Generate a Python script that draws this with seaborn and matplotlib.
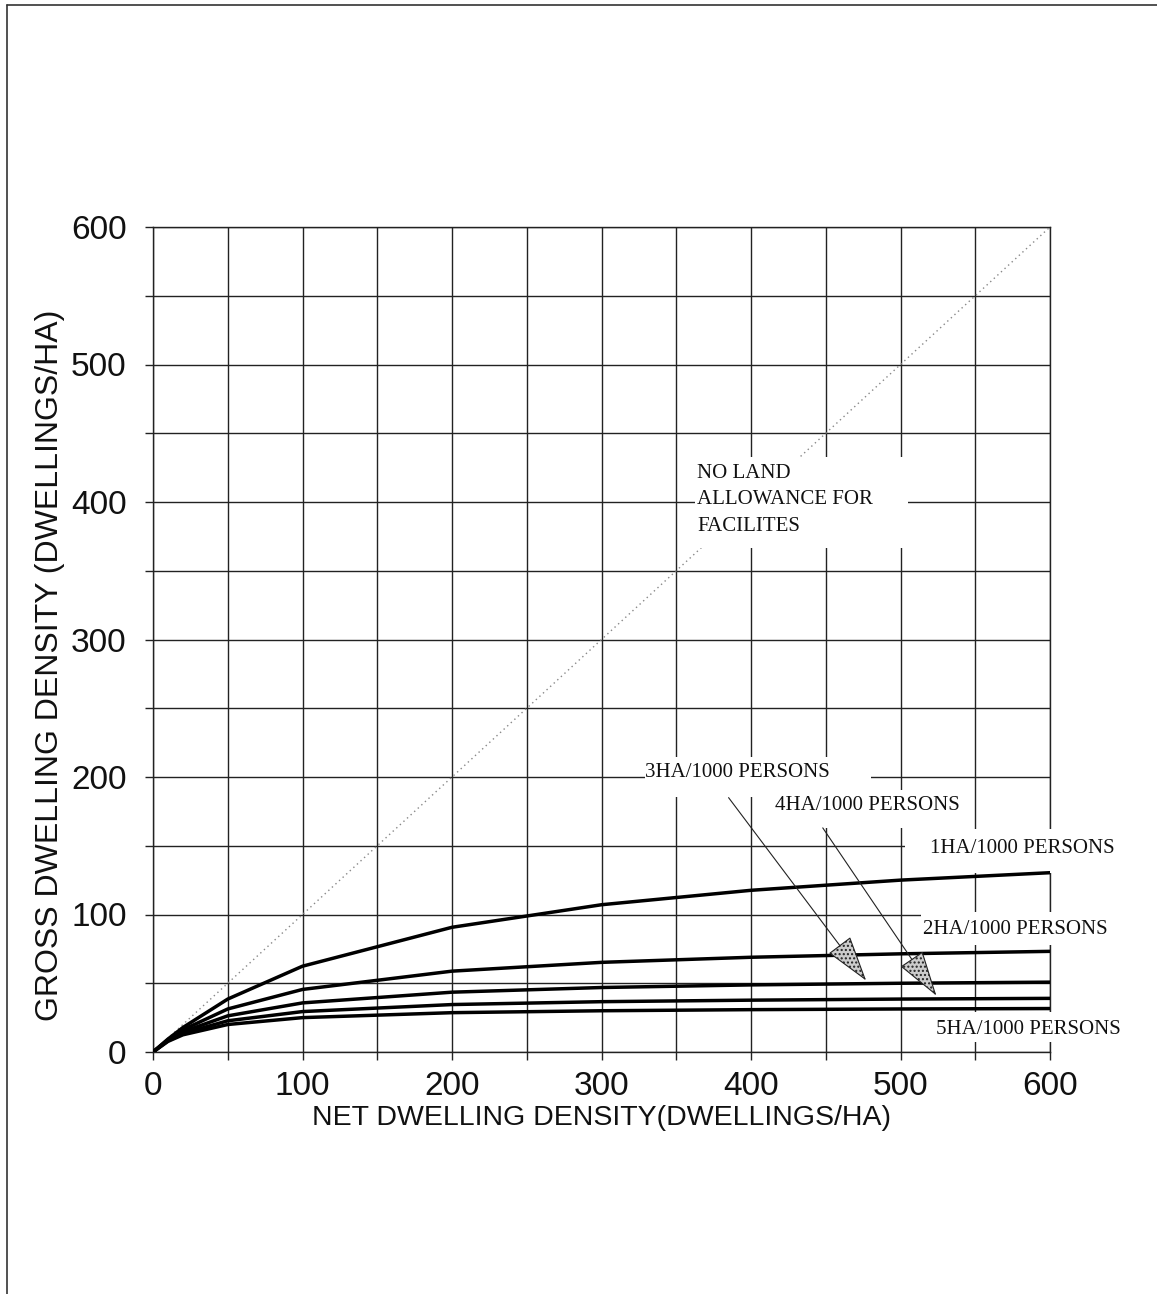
import numpy as np
import pandas as pd
import matplotlib
matplotlib.use("Agg")
import matplotlib.pyplot as plt
import seaborn as sns
from matplotlib.lines import Line2D
from matplotlib.patches import Rectangle

# ---- data ----
net_density = [0, 10, 20, 50, 100, 200, 300, 400, 500, 600]
ha1 = [0, 9.4, 17.8, 38.5, 62.4, 90.7, 107.1, 117.6, 125.0, 130.4]
ha2 = [0, 8.9, 16.1, 31.3, 45.5, 58.8, 65.2, 68.9, 71.4, 73.2]
ha3 = [0, 8.5, 14.7, 26.3, 35.7, 43.5, 46.9, 48.8, 50.0, 50.8]
ha4 = [0, 8.1, 13.5, 22.7, 29.4, 34.5, 36.6, 37.7, 38.5, 39.0]
ha5 = [0, 7.7, 12.5, 20.0, 25.0, 28.6, 30.0, 30.8, 31.3, 31.6]
diag_x = [0, 600]
diag_y = [0, 600]
series_names = ["1HA/1000 PERSONS", "2HA/1000 PERSONS", "3HA/1000 PERSONS",
                "4HA/1000 PERSONS", "5HA/1000 PERSONS"]
x_ticks = [0, 100, 200, 300, 400, 500, 600]
y_ticks = [0, 100, 200, 300, 400, 500, 600]

rows = []
for name, vals in zip(series_names, [ha1, ha2, ha3, ha4, ha5]):
    for x, y in zip(net_density, vals):
        rows.append({"net": x, "gross": y, "series": name})
df = pd.DataFrame(rows)

sns.set_theme(style="white")
plt.rcParams["font.family"] = ["Liberation Sans", "DejaVu Sans"]

fig = plt.figure(figsize=(11.57, 12.94), dpi=100)
ax = fig.add_axes([153 / 1157, 1 - 1052 / 1294, (1050 - 153) / 1157, (1052 - 227) / 1294])

# diagonal dotted line
ax.plot(diag_x, diag_y, color="#888888", lw=1.0, ls=(0, (1, 2.5)), zorder=2)

sns.lineplot(data=df, x="net", y="gross", units="series", estimator=None,
             color="black", lw=2.5, ax=ax, legend=False, zorder=6)

ax.set_xlim(0, 600)
ax.set_ylim(0, 600)
ax.set_xticks(x_ticks)
ax.set_yticks(y_ticks)
ax.set_xticks(np.arange(0, 601, 50), minor=True)
ax.set_yticks(np.arange(0, 601, 50), minor=True)
ax.grid(True, which="both", color="#222222", lw=1.0, zorder=1)
ax.set_axisbelow(True)
for s in ax.spines.values():
    s.set_visible(True)
    s.set_color("#222222")
    s.set_linewidth(1.0)
    s.set_zorder(1.5)
ax.tick_params(axis="both", which="both", direction="out", length=6, width=1.0,
               color="#222222", bottom=True, left=True)
ax.tick_params(axis="y", which="major", labelsize=24, pad=13, labelcolor="#111111")
ax.tick_params(axis="x", which="major", labelsize=24, pad=8, labelcolor="#111111")

ax.set_xlabel("NET DWELLING DENSITY(DWELLINGS/HA)", fontsize=20.5, labelpad=2,
              color="#111111")
ax.set_ylabel("GROSS DWELLING DENSITY (DWELLINGS/HA)", fontsize=23,
              color="#111111")
ax.yaxis.set_label_coords(-0.098, 0.469)

serif = ["Liberation Serif", "DejaVu Serif"]
tkw = dict(family=serif, fontsize=15, color="#111111", ha="left",
           clip_on=False, zorder=5)

# white masks behind the labels (grid lines are interrupted there)
masks = [((362.5, 366.5), 142.5, 66.0),   # NO LAND ...
         ((329, 185.5), 151, 29),         # 3HA
         ((414, 163), 129, 27.5),         # 4HA
         ((503, 130), 144, 32),           # 1HA
         ((514, 78), 126, 24),            # 2HA
         ((520, 7), 128, 22)]             # 5HA
for (mx, my), mw, mh in masks:
    ax.add_patch(Rectangle((mx, my), mw, mh, fc="white", ec="none",
                           zorder=4, clip_on=False))

ax.text(364, 428, "NO LAND\nALLOWANCE FOR\nFACILITES", linespacing=1.55,
        va="top", **tkw)
ax.text(329, 200, series_names[2], va="baseline", **tkw)
ax.text(416, 176, series_names[3], va="baseline", **tkw)
ax.text(520, 144.5, series_names[0], va="baseline", **tkw)
ax.text(515, 86, series_names[1], va="baseline", **tkw)
ax.text(524, 13, series_names[4], va="baseline", **tkw)

# arrows with stippled heads
for (x0, y0), (x1, y1) in [((385, 185), (477, 52)), ((448, 163), (524, 41))]:
    ax.annotate("", xy=(x1, y1), xytext=(x0, y0),
                arrowprops=dict(arrowstyle="-|>,head_length=3.0,head_width=0.9",
                                mutation_scale=10, lw=0.8, color="#222222",
                                fc="#cccccc", hatch="....", shrinkA=0, shrinkB=0),
                zorder=7)

# outer frame (top and left edges)
fig.add_artist(Line2D([7 / 1157, 1157 / 1157], [1 - 5 / 1294, 1 - 5 / 1294],
                      color="#333333", lw=1.2, transform=fig.transFigure))
fig.add_artist(Line2D([7 / 1157, 7 / 1157], [0, 1 - 5 / 1294],
                      color="#333333", lw=1.2, transform=fig.transFigure))

fig.savefig("out.png", dpi=100, facecolor="white")
